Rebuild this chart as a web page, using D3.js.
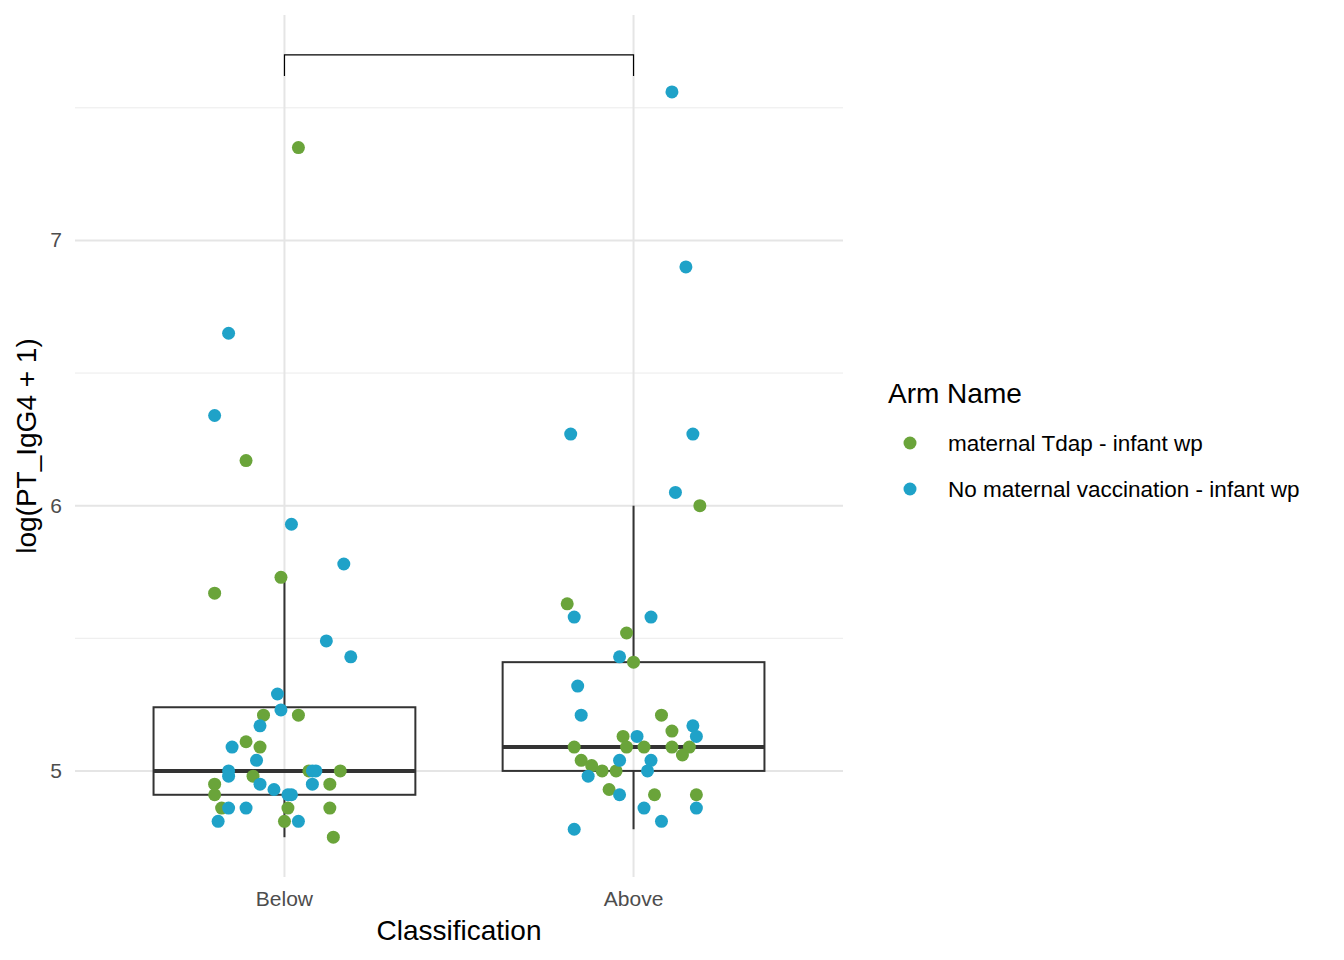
<!DOCTYPE html>
<html><head><meta charset="utf-8">
<script src="https://cdn.jsdelivr.net/npm/d3@7"></script>
<style>body{margin:0;background:#fff;font-family:"Liberation Sans",Arial,sans-serif}</style>
</head><body><div id="main"></div>
<script>
// categories and groups
const categories = ["Below", "Above"];
const arms = ["maternal Tdap - infant wp", "No maternal vaccination - infant wp"];
const armColors = ["#6AA43A", "#1FA2C8"];
const yTicks = [5, 6, 7];

// points: jitter (category units), value
const belowTdapJit = [0.04,-0.11,-0.20,-0.01,-0.06,0.04,-0.11,-0.07,-0.20,-0.20,-0.09,-0.18,0.01,0.00,0.14,0.07,0.16,0.13,0.13];
const belowTdapVal = [7.35,6.17,5.67,5.73,5.21,5.21,5.11,5.09,4.95,4.91,4.98,4.86,4.86,4.81,4.75,5.00,5.00,4.95,4.86];
const belowNoneJit = [-0.16,-0.20,0.02,0.17,0.12,0.19,-0.02,-0.01,-0.07,-0.15,-0.08,-0.16,-0.16,-0.07,-0.03,0.02,0.01,-0.16,-0.11,-0.19,0.04,0.08,0.09,0.08];
const belowNoneVal = [6.65,6.34,5.93,5.78,5.49,5.43,5.29,5.23,5.17,5.09,5.04,5.00,4.98,4.95,4.93,4.91,4.91,4.86,4.86,4.81,4.81,4.95,5.00,5.00];
const aboveTdapJit = [0.19,-0.19,-0.02,0.00,0.08,0.11,-0.03,-0.17,-0.02,0.03,0.11,0.16,0.14,-0.15,-0.12,-0.09,-0.05,-0.07,0.06,0.18];
const aboveTdapVal = [6.00,5.63,5.52,5.41,5.21,5.15,5.13,5.09,5.09,5.09,5.09,5.09,5.06,5.04,5.02,5.00,5.00,4.93,4.91,4.91];
const aboveNoneJit = [0.11,0.15,-0.18,0.17,0.12,-0.17,0.05,-0.04,-0.16,-0.15,0.01,0.17,0.18,0.05,-0.04,0.04,-0.13,-0.04,0.03,0.18,0.08,-0.17];
const aboveNoneVal = [7.56,6.90,6.27,6.27,6.05,5.58,5.58,5.43,5.32,5.21,5.13,5.17,5.13,5.04,5.04,5.00,4.98,4.91,4.86,4.86,4.81,4.78];

// box stats: low whisker, q1, median, q3, high whisker
const boxStats = [[4.75,4.91,5.00,5.24,5.72],[4.78,5.00,5.09,5.41,6.00]];

const width = 1344, height = 960;
const svg = d3.select("#main").append("svg").attr("width", width).attr("height", height);

const x = d3.scaleLinear().domain([0.4, 2.6]).range([75, 843]);
const y = d3.scaleLinear().domain([4.6, 7.85]).range([877, 15]);

// grid
[5.5, 6.5, 7.5].forEach(v => svg.append("line").attr("x1",75).attr("x2",843)
  .attr("y1",y(v)).attr("y2",y(v)).attr("stroke","#ebebeb").attr("stroke-width",1));
yTicks.forEach(v => svg.append("line").attr("x1",75).attr("x2",843)
  .attr("y1",y(v)).attr("y2",y(v)).attr("stroke","#e5e5e5").attr("stroke-width",2));
categories.forEach((c,i) => svg.append("line").attr("x1",x(i+1)).attr("x2",x(i+1))
  .attr("y1",15).attr("y2",877).attr("stroke","#e5e5e5").attr("stroke-width",2));

// boxes
boxStats.forEach((s,i) => {
  const cx = x(i+1), hw = x(0.375) - x(0);
  const g = svg.append("g").attr("stroke","#333").attr("fill","none");
  g.append("line").attr("x1",cx).attr("x2",cx).attr("y1",y(s[0])).attr("y2",y(s[1])).attr("stroke-width",2);
  g.append("line").attr("x1",cx).attr("x2",cx).attr("y1",y(s[3])).attr("y2",y(s[4])).attr("stroke-width",2);
  g.append("rect").attr("x",cx-hw).attr("width",2*hw).attr("y",y(s[3])).attr("height",y(s[1])-y(s[3])).attr("stroke-width",2);
  g.append("line").attr("x1",cx-hw).attr("x2",cx+hw).attr("y1",y(s[2])).attr("y2",y(s[2])).attr("stroke-width",4);
});

// points
const sets = [
  [1, belowTdapJit, belowTdapVal, 0], [1, belowNoneJit, belowNoneVal, 1],
  [2, aboveTdapJit, aboveTdapVal, 0], [2, aboveNoneJit, aboveNoneVal, 1]
];
sets.forEach(s => {
  svg.append("g").selectAll("circle").data(s[2]).join("circle")
    .attr("cx", (d,i) => x(s[0] + s[1][i]))
    .attr("cy", d => y(d))
    .attr("r", 6.5)
    .attr("fill", armColors[s[3]]);
});

// significance bracket
svg.append("path").attr("fill","none").attr("stroke","#000").attr("stroke-width",1.2)
  .attr("d", `M${x(1)},${y(7.62)}V${y(7.70)}H${x(2)}V${y(7.62)}`);

// axes text
yTicks.forEach(v => svg.append("text").attr("x",62).attr("y",y(v)+7).attr("text-anchor","end")
  .attr("font-size",21).attr("fill","#4d4d4d").text(v));
categories.forEach((c,i) => svg.append("text").attr("x",x(i+1)).attr("y",906).attr("text-anchor","middle")
  .attr("font-size",21).attr("fill","#4d4d4d").text(c));
svg.append("text").attr("x",459).attr("y",940).attr("text-anchor","middle").attr("font-size",28).text("Classification");
svg.append("text").attr("transform",`translate(36,446) rotate(-90)`).attr("text-anchor","middle")
  .attr("font-size",28).text("log(PT_IgG4 + 1)");

// legend
svg.append("text").attr("x",888).attr("y",403).attr("font-size",28).text("Arm Name");
arms.forEach((a,i) => {
  svg.append("circle").attr("cx",910).attr("cy",443+i*46).attr("r",6.5).attr("fill",armColors[i]);
  svg.append("text").attr("x",948).attr("y",451+i*46).attr("font-size",22.5).text(a);
});
</script></body></html>
